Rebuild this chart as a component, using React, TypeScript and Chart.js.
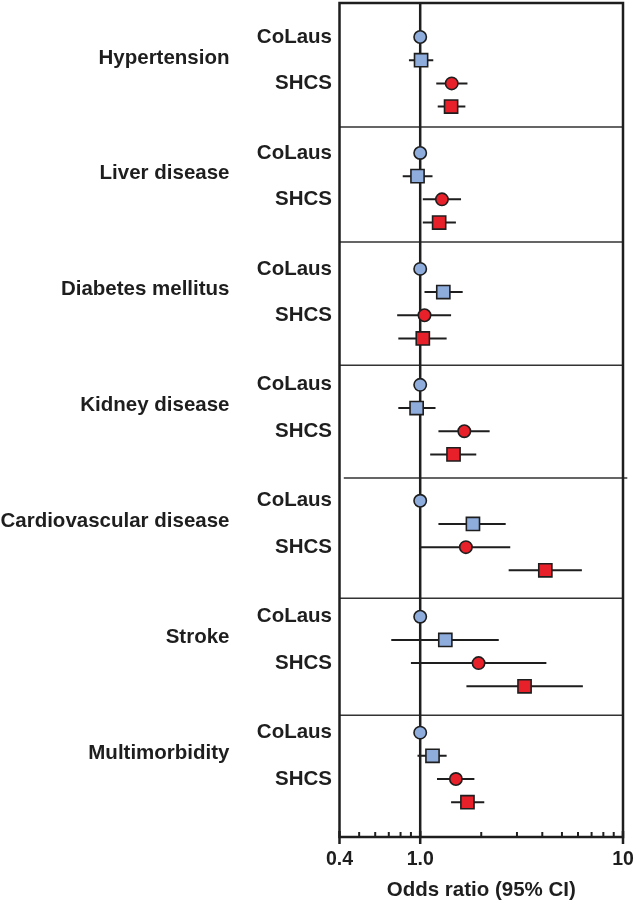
import React, { useEffect, useRef } from 'react';
import { Chart, registerables } from 'chart.js';

Chart.register(...registerables);

// ---------- data ----------
const groups = [
  'Hypertension',
  'Liver disease',
  'Diabetes mellitus',
  'Kidney disease',
  'Cardiovascular disease',
  'Stroke',
  'Multimorbidity',
];
const cohortLabels = ['CoLaus', 'SHCS'];

// CoLaus reference (circle, OR = 1, no CI)
const colausCircleOR = [1, 1, 1, 1, 1, 1, 1];

// CoLaus square
const colausSquareOR = [1.01, 0.97, 1.3, 0.96, 1.82, 1.33, 1.15];
const colausSquareLo = [0.88, 0.82, 1.05, 0.78, 1.23, 0.72, 0.97];
const colausSquareHi = [1.16, 1.15, 1.62, 1.19, 2.64, 2.44, 1.35];

// SHCS circle
const shcsCircleOR = [1.43, 1.28, 1.05, 1.65, 1.68, 1.94, 1.5];
const shcsCircleLo = [1.2, 1.03, 0.77, 1.23, 1.0, 0.9, 1.21];
const shcsCircleHi = [1.71, 1.59, 1.42, 2.2, 2.78, 4.19, 1.85];

// SHCS square
const shcsSquareOR = [1.42, 1.24, 1.03, 1.46, 4.14, 3.27, 1.71];
const shcsSquareLo = [1.22, 1.03, 0.78, 1.12, 2.73, 1.69, 1.42];
const shcsSquareHi = [1.67, 1.5, 1.35, 1.89, 6.27, 6.34, 2.07];

const majorTicks = [0.4, 1, 10];
const majorTickLabels = ['0.4', '1.0', '10'];
const minorTicks = [0.5, 0.6, 0.7, 0.8, 0.9, 2, 3, 4, 5, 6, 7, 8, 9];
const xTitle = 'Odds ratio (95% CI)';

const separatorRows = [3.88, 8.84, 14.15, 19.02, 24.2, 29.25];
const separatorStart = [0.4, 0.4, 0.4, 0.42, 0.4, 0.4];
const separatorEnd = [10, 10, 10, 10.5, 10, 10];

const X_MIN = 0.4;
const X_MAX = 10;
const Y_MIN = -1.467;
const Y_MAX = 34.5;

// ---------- styles ----------
const INK = '#1e1e1e';
const BLUE = '#8FADDC';
const RED = '#E8202A';
const FONT = '"Liberation Sans", Arial, Helvetica, sans-serif';

const rowOf = (g: number, r: number) => g * 5 + r;

function ciData(lo: number[], hi: number[], r: number) {
  const out: any[] = [];
  lo.forEach((l, g) => {
    out.push({ x: l, y: rowOf(g, r) });
    out.push({ x: hi[g], y: rowOf(g, r) });
    out.push({ x: hi[g], y: null });
  });
  return out;
}

function pointData(or: number[], r: number) {
  return or.map((v, g) => ({ x: v, y: rowOf(g, r) }));
}

const overlayPlugin = {
  id: 'forestOverlay',
  afterDatasetsDraw(chart: any) {
    const { ctx, chartArea: a, scales } = chart;
    const x = scales.x;
    const y = scales.y;
    ctx.save();
    // frame
    ctx.strokeStyle = INK;
    ctx.lineWidth = 2.5;
    ctx.strokeRect(a.left, a.top, a.right - a.left, a.bottom - a.top);
    // minor ticks (inward)
    ctx.lineWidth = 2;
    minorTicks.forEach((v) => {
      const px = x.getPixelForValue(v);
      ctx.beginPath();
      ctx.moveTo(px, a.bottom);
      ctx.lineTo(px, a.bottom - 5);
      ctx.stroke();
    });
    // major ticks (outward)
    ctx.lineWidth = 2.5;
    majorTicks.forEach((v) => {
      const px = x.getPixelForValue(v);
      ctx.beginPath();
      ctx.moveTo(px, a.bottom - 6);
      ctx.lineTo(px, a.bottom + 7);
      ctx.stroke();
    });
    // tick labels
    ctx.fillStyle = INK;
    ctx.textAlign = 'center';
    ctx.textBaseline = 'middle';
    ctx.font = `bold 19.5px ${FONT}`;
    majorTicks.forEach((v, i) => {
      ctx.fillText(majorTickLabels[i], x.getPixelForValue(v), a.bottom + 23);
    });
    // axis title
    ctx.font = `bold 20.5px ${FONT}`;
    ctx.fillText(xTitle, (a.left + a.right) / 2, a.bottom + 53);
    // row labels
    ctx.textAlign = 'right';
    groups.forEach((name, g) => {
      ctx.fillText(name, a.left - 110, y.getPixelForValue(rowOf(g, 0.9)));
      ctx.fillText(cohortLabels[0], a.left - 7.5, y.getPixelForValue(rowOf(g, 0)));
      ctx.fillText(cohortLabels[1], a.left - 7.5, y.getPixelForValue(rowOf(g, 2)));
    });
    ctx.restore();
  },
};

export default function App() {
  const canvasRef = useRef<HTMLCanvasElement | null>(null);

  useEffect(() => {
    const canvas = canvasRef.current;
    if (!canvas) return;

    const sepData: any[] = [];
    separatorRows.forEach((s, i) => {
      sepData.push({ x: separatorStart[i], y: s });
      sepData.push({ x: separatorEnd[i], y: s });
      sepData.push({ x: separatorEnd[i], y: null });
    });

    const ciStyle = {
      type: 'line' as const,
      borderColor: INK,
      borderWidth: 2,
      pointRadius: 0,
      spanGaps: false,
      order: 10,
    };

    const chart = new Chart(canvas, {
      type: 'scatter',
      data: {
        datasets: [
          {
            type: 'line',
            label: 'separators',
            data: sepData,
            borderColor: '#333333',
            borderWidth: 1.5,
            pointRadius: 0,
            spanGaps: false,
            clip: false,
            order: 30,
          } as any,
          {
            type: 'line',
            label: 'reference',
            data: [
              { x: 1, y: Y_MIN },
              { x: 1, y: Y_MAX },
            ],
            borderColor: INK,
            borderWidth: 2.5,
            pointRadius: 0,
            order: 20,
          } as any,
          { ...ciStyle, label: 'ci1', data: ciData(colausSquareLo, colausSquareHi, 1) } as any,
          { ...ciStyle, label: 'ci2', data: ciData(shcsCircleLo, shcsCircleHi, 2) } as any,
          { ...ciStyle, label: 'ci3', data: ciData(shcsSquareLo, shcsSquareHi, 3) } as any,
          {
            label: 'CoLaus circle',
            data: pointData(colausCircleOR, 0),
            pointStyle: 'circle',
            pointRadius: 6.2,
            backgroundColor: BLUE,
            borderColor: INK,
            borderWidth: 1.6,
            order: 1,
          } as any,
          {
            label: 'CoLaus square',
            data: pointData(colausSquareOR, 1),
            pointStyle: 'rect',
            pointRadius: 9.3,
            backgroundColor: BLUE,
            borderColor: INK,
            borderWidth: 1.6,
            order: 1,
          } as any,
          {
            label: 'SHCS circle',
            data: pointData(shcsCircleOR, 2),
            pointStyle: 'circle',
            pointRadius: 6.2,
            backgroundColor: RED,
            borderColor: INK,
            borderWidth: 1.6,
            order: 1,
          } as any,
          {
            label: 'SHCS square',
            data: pointData(shcsSquareOR, 3),
            pointStyle: 'rect',
            pointRadius: 9.3,
            backgroundColor: RED,
            borderColor: INK,
            borderWidth: 1.6,
            order: 1,
          } as any,
        ],
      },
      options: {
        responsive: false,
        animation: false,
        devicePixelRatio: 1,
        layout: { autoPadding: false, padding: { left: 339.5, right: 13, top: 3, bottom: 67 } },
        plugins: { legend: { display: false }, tooltip: { enabled: false } },
        scales: {
          x: { type: 'logarithmic', min: X_MIN, max: X_MAX, display: false },
          y: { type: 'linear', min: Y_MIN, max: Y_MAX, reverse: true, display: false },
        },
      },
      plugins: [overlayPlugin],
    });

    return () => chart.destroy();
  }, []);

  return (
    <div style={{ position: 'absolute', left: 0, top: 0, width: 636, height: 904, background: '#ffffff' }}>
      <canvas ref={canvasRef} width={636} height={904} style={{ display: 'block' }} />
    </div>
  );
}
